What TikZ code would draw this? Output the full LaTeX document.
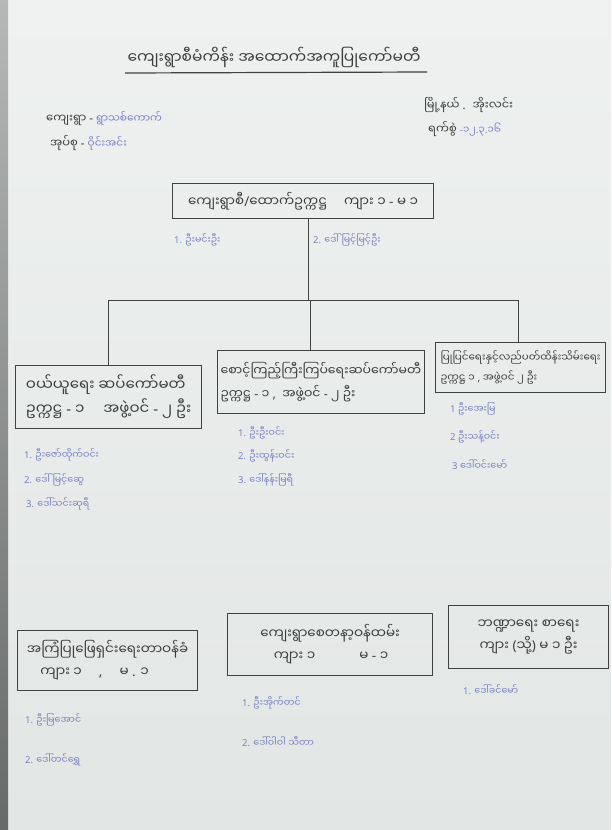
\documentclass[tikz,border=0pt]{standalone}
\usepackage{fontspec}
\newfontfamily\mm[Script=Myanmar]{Noto Sans Myanmar UI}
\newfontfamily\latf{Noto Sans}
\newcommand\lt[1]{{\latf #1}}
\definecolor{bgc}{HTML}{E2E6E5}
\definecolor{bgtop}{HTML}{EEF1F0}
\definecolor{edgec}{HTML}{686A69}
\definecolor{edgetop}{HTML}{B5B8B7}
\definecolor{pencilc}{HTML}{3C3D3F}
\definecolor{penc}{HTML}{7A80C4}
\definecolor{linec}{HTML}{404142}
\begin{document}
\begin{tikzpicture}[x=1pt,y=-1pt,
  pencil/.style={text=pencilc,font=\mm\fontsize{11.5}{13}\selectfont,inner sep=0pt,anchor=west},
  pen/.style={text=penc,font=\mm\fontsize{9.5}{11}\selectfont,inner sep=0pt,anchor=west},
  ttl/.style={text=pencilc,font=\mm\fontsize{15.5}{17}\selectfont,inner sep=0pt},
  box/.style={draw=linec,line width=1.1pt,anchor=north west,inner sep=3pt,align=left,
              text=pencilc},
  conn/.style={draw=linec,line width=0.9pt}]
\useasboundingbox (0,0) rectangle (611,830);
\shade[top color=bgtop,bottom color=bgc] (0,0) rectangle (611,830);
\shade[top color=edgetop,bottom color=edgec] (0,0) rectangle (8,830);

% title
\node[ttl] (title) at (274,57) {ကျေးရွာစီမံကိန်း အထောက်အကူပြုကော်မတီ};
\coordinate (ulA) at (125,73);
\coordinate (ulB) at (427,72);
\draw[conn,line width=1.2pt] (ulA) -- (ulB);

% header info
\node[pencil] (vil) at (46,119) {ကျေးရွာ \lt{-} {\color{penc}\fontsize{10.5}{12}\selectfont ရွာသစ်ကောက်}};
\node[pencil] (tract) at (50,143) {အုပ်စု \lt{-} {\color{penc}\fontsize{10.5}{12}\selectfont ဝိုင်းအင်း}};
\node[pencil] (town) at (424,105) {မြို့နယ် \lt{.} \ အိုးလင်း};
\node[pencil] (date) at (428,129) {ရက်စွဲ {\color{penc}\fontsize{10}{12}\selectfont \lt{-}၁၂\lt{.}၃\lt{.}၁၆}};

% top box
\node[box,minimum width=261pt,minimum height=35pt,inner sep=5pt,
      font=\mm\fontsize{13.5}{15}\selectfont] (T) at (172,183) {ကျေးရွာစီ\lt{/}ထောက်ဥက္ကဋ္ဌ \quad ကျား ၁ \lt{-} မ ၁};
\node[pen] (t1) at (174,240) {\lt{1.} ဦးမင်းဦး};
\node[pen] (t2) at (313,240) {\lt{2.} ဒေါ်မြင့်မြင့်ဦး};

% connectors
\coordinate (tj) at (308,218);
\coordinate (bus) at (308,300);
\coordinate (bL) at (108,300);
\coordinate (bM) at (310,300);
\coordinate (bR) at (518,300);
\draw[conn] (tj) -- (bus);
\draw[conn] (bL) -- (bR);

% level-2 boxes
\node[box,minimum width=186pt,minimum height=63pt,font=\mm\fontsize{15}{24}\selectfont] (L) at (15,365)
  {ဝယ်ယူရေး ဆပ်ကော်မတီ\\ဥက္ကဋ္ဌ \lt{-} ၁ \quad အဖွဲ့ဝင် \lt{-} ၂ ဦး};
\node[box,minimum width=205pt,minimum height=63pt,font=\mm\fontsize{12.5}{23}\selectfont] (M) at (217,350)
  {စောင့်ကြည့်ကြီးကြပ်ရေးဆပ်ကော်မတီ\\ဥက္ကဋ္ဌ \lt{-} ၁ \lt{,}\enspace အဖွဲ့ဝင် \lt{-} ၂ ဦး};
\node[box,minimum width=170pt,minimum height=50pt,font=\mm\fontsize{10.3}{20}\selectfont] (R) at (435,342)
  {ပြုပြင်ရေးနှင့်လည်ပတ်ထိန်းသိမ်းရေး\\ဥက္ကဋ္ဌ ၁ \lt{,} အဖွဲ့ဝင် ၂ ဦး};
\draw[conn] (bL) -- (bL |- L.north);
\draw[conn] (bM) -- (bM |- M.north);
\draw[conn] (bR) -- (bR |- R.north);

\node[pen] (l1) at (24,455) {\lt{1.} ဦးဇော်ထိုက်ဝင်း};
\node[pen] (l2) at (24,480) {\lt{2.} ဒေါ်မြင့်ဆွေ};
\node[pen] (l3) at (26,504) {\lt{3.} ဒေါ်သင်းဆုရီ};

\node[pen] (m1) at (238,433) {\lt{1.} ဦးဦးဝင်း};
\node[pen] (m2) at (238,456) {\lt{2.} ဦးထွန်းဝင်း};
\node[pen] (m3) at (238,480) {\lt{3.} ဒေါ်နန်းမြရီ};

\node[pen] (r1) at (450,409) {\lt{1} ဦးအေးမြ};
\node[pen] (r2) at (450,437) {\lt{2} ဦးသန့်ဝင်း};
\node[pen] (r3) at (452,465) {\lt{3} ဒေါ်ဝင်းမော်};

% bottom boxes
\node[box,minimum width=180pt,minimum height=60pt,font=\mm\fontsize{13.5}{22}\selectfont] (BL) at (17,630)
  {အကြံပြုဖြေရှင်းရေးတာဝန်ခံ\\\quad ကျား ၁ \quad \lt{,} \quad မ \lt{.} ၁};
\node[box,minimum width=205pt,minimum height=62pt,font=\mm\fontsize{13.5}{22}\selectfont] (BM) at (227,613)
  {ကျေးရွာစေတနာ့ဝန်ထမ်း\\\quad ကျား ၁ \qquad\quad မ \lt{-} ၁};
\node[box,minimum width=160pt,minimum height=63pt,align=center,font=\mm\fontsize{13.5}{22}\selectfont] (BR) at (448,605)
  {ဘဏ္ဍာရေး စာရေး\\ကျား \lt{(}သို့\lt{)} မ ၁ ဦး};

\node[pen] (bl1) at (25,720) {\lt{1.} ဦးမြအောင်};
\node[pen] (bl2) at (25,760) {\lt{2.} ဒေါ်တင်ရွှေ};
\node[pen] (bm1) at (242,703) {\lt{1.} ဦးအိုက်တင်};
\node[pen] (bm2) at (242,742) {\lt{2.} ဒေါ်ဝါဝါ သီတာ};
\node[pen] (br1) at (463,690) {\lt{1.} ဒေါ်ခင်မော်};
\end{tikzpicture}
\end{document}
